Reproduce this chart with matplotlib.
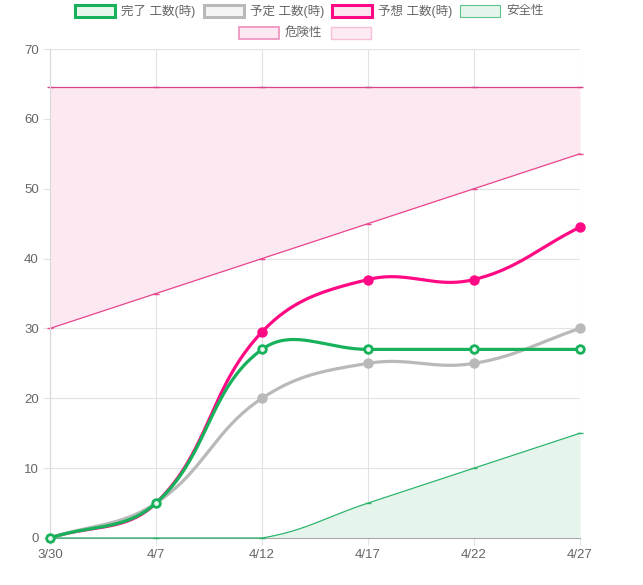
import numpy as np
import matplotlib
matplotlib.use("Agg")
import matplotlib.pyplot as plt
from matplotlib.patches import Rectangle

plt.rcParams['font.family'] = ['Liberation Sans', 'Noto Sans CJK JP', 'DejaVu Sans']

labels = ["3/30", "4/7", "4/12", "4/17", "4/22", "4/27"]
done = [0, 5, 27, 27, 27, 27]
planned = [0, 5, 20, 25, 25, 30]
forecast = [0, 5, 29.5, 37, 37, 44.5]
safety = [0, 0, 0, 5, 10, 15]
danger = [30, 35, 40, 45, 50, 55]
danger_top = [64.5, 64.5, 64.5, 64.5, 64.5, 64.5]

W, H = 643, 585
fig = plt.figure(figsize=(W / 100, H / 100), dpi=100)
L, R, T, B = 50, 580, 49, 538
ax = fig.add_axes([L / W, (H - B) / H, (R - L) / W, (B - T) / H])
YMAX = 70
ax.set_xlim(0, len(labels) - 1)
ax.set_ylim(0, YMAX)
sx = (R - L) / (len(labels) - 1)
sy = (B - T) / YMAX


def smooth(vals, tension=0.4, n=40):
    xs = np.arange(len(vals), dtype=float)
    px = xs * sx
    py = np.array(vals, dtype=float) * sy
    m = len(vals)
    cps = []
    for i in range(m):
        pi = max(i - 1, 0)
        ni = min(i + 1, m - 1)
        d01 = np.hypot(px[i] - px[pi], py[i] - py[pi])
        d12 = np.hypot(px[ni] - px[i], py[ni] - py[i])
        tot = d01 + d12
        s01 = d01 / tot if tot else 0
        s12 = d12 / tot if tot else 0
        fa, fb = tension * s01, tension * s12
        dx, dy = px[ni] - px[pi], py[ni] - py[pi]
        c1 = (px[i] - fa * dx, np.clip(py[i] - fa * dy, 0, YMAX * sy))
        c2 = (px[i] + fb * dx, np.clip(py[i] + fb * dy, 0, YMAX * sy))
        cps.append((c1, c2))
    outx, outy = [], []
    t = np.linspace(0, 1, n)
    for i in range(m - 1):
        p0 = np.array([px[i], py[i]])
        p1 = np.array(cps[i][1])
        p2 = np.array(cps[i + 1][0])
        p3 = np.array([px[i + 1], py[i + 1]])
        pts = ((1 - t)[:, None] ** 3 * p0 + 3 * ((1 - t) ** 2 * t)[:, None] * p1
               + 3 * ((1 - t) * t ** 2)[:, None] * p2 + (t ** 3)[:, None] * p3)
        if i > 0:
            pts = pts[1:]
        outx.extend(pts[:, 0] / sx)
        outy.extend(pts[:, 1] / sy)
    return np.array(outx), np.array(outy)


x = np.arange(len(labels))

# grid
for v in range(0, 71, 10):
    ax.axhline(v, color='#e2e2e2', lw=0.8, zorder=0)
for i in x:
    ax.axvline(i, color='#e2e2e2', lw=0.8, zorder=0)

# danger zone
ax.fill_between(x, danger, danger_top, color='#fce8f1', lw=0, zorder=1)
ax.plot(x, danger_top, color='#d6438a', lw=0.9, zorder=2, clip_on=False,
        marker='_', ms=4, mew=1)
ax.plot(x, danger, color='#e8468f', lw=0.9, zorder=2, clip_on=False,
        marker='_', ms=5, mew=1)

# safety zone
sxs, sys_ = smooth(safety)
ax.fill_between(sxs, 0, sys_, color='#e6f5ec', lw=0, zorder=1)
ax.plot(sxs, sys_, color='#2bb36b', lw=0.9, zorder=3, clip_on=False)
ax.plot(x, safety, ls='none', color='#2bb36b', marker='_', ms=5, mew=1, zorder=3, clip_on=False)

# forecast
fx, fy = smooth(forecast)
ax.plot(fx, fy, color='#ff0a84', lw=2.3, zorder=4, clip_on=False)
ax.plot(x[2:], forecast[2:], ls='none', marker='o', ms=6.5, color='#ff0a84', zorder=4, clip_on=False)

# planned
px_, py_ = smooth(planned)
ax.plot(px_, py_, color='#b9b9b9', lw=2.3, zorder=5, clip_on=False)
ax.plot(x[2:], planned[2:], ls='none', marker='o', ms=6.5, color='#b9b9b9', zorder=5, clip_on=False)

# done
dx_, dy_ = smooth(done)
ax.plot(dx_, dy_, color='#17b15c', lw=2.3, zorder=6, clip_on=False)
ax.plot(x, done, ls='none', marker='o', ms=5.5, mfc='#e8f7ee', mec='#17b15c', mew=2,
        color='#17b15c', zorder=7, clip_on=False)

# axes styling
for s in ['top', 'right']:
    ax.spines[s].set_visible(False)
ax.spines['left'].set_color('#d8d8d8')
ax.spines['bottom'].set_color('#a9a9a9')
ax.spines['left'].set_linewidth(0.8)
ax.spines['bottom'].set_linewidth(0.8)
ax.set_xticks(x)
ax.set_xticklabels(labels)
ax.set_yticks(range(0, 71, 10))
ax.tick_params(axis='both', colors='#e2e2e2', labelcolor='#666666', labelsize=9.5,
               length=5, width=0.8)
ax.tick_params(axis='x', pad=3)
ax.tick_params(axis='y', pad=3)

# legend
def legend_item(x0, yc, text, ec, fc, lw):
    w, h = 40, 12
    fig.patches.append(Rectangle(((x0) / W, (H - yc - h / 2) / H), w / W, h / H,
                                 transform=fig.transFigure, facecolor=fc,
                                 edgecolor=ec, linewidth=lw))
    if text:
        fig.text((x0 + w + 6) / W, (H - yc) / H, text, color='#666666', fontsize=9,
                 va='center', ha='left')

legend_item(75, 11, "完了 工数(時)", '#17b15c', '#e8f7ee', 2.2)
legend_item(204, 11, "予定 工数(時)", '#b9b9b9', '#f5f5f5', 2.2)
legend_item(332, 11, "予想 工数(時)", '#ff0a84', '#fde6f1', 2.2)
legend_item(460, 11, "安全性", '#5cc48a', '#e6f5ec', 0.8)
legend_item(239, 33, "危険性", '#ee8fbc', '#fce8f1', 1.2)
legend_item(331, 33, "", '#f6bfd9', '#fdeaf3', 1.0)

fig.savefig("out.png", dpi=100)
